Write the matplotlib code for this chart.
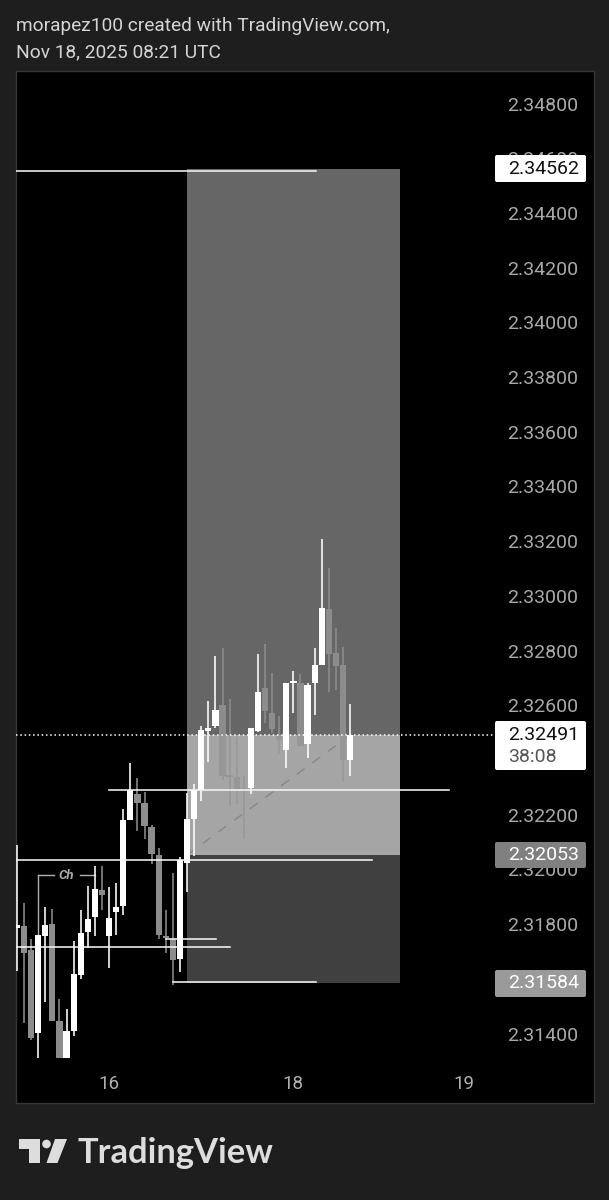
import matplotlib
matplotlib.use('Agg')
import matplotlib.pyplot as plt
from matplotlib.patches import Circle, FancyBboxPatch, Polygon

plt.rcParams['font.family'] = ['Roboto', 'DejaVu Sans']

# first candle sits half outside the left edge of the pane
candle_index = list(range(-1, 47))
opens = [2.31784, 2.31793, 2.31707, 2.31403, 2.31756, 2.31799, 2.31445, 2.31311,
         2.31409, 2.31614, 2.31772, 2.31826, 2.31923, 2.31756, 2.31843, 2.31866,
         2.32179, 2.32275, 2.32244, 2.32156, 2.32051, 2.31756, 2.31744, 2.31674,
         2.32024, 2.32184, 2.32291, 2.32507, 2.32523, 2.32602, 2.32346, 2.32338,
         2.32298, 2.32298, 2.32507, 2.32663, 2.32572, 2.32486, 2.32438, 2.32680,
         2.32681, 2.32457, 2.32680, 2.32748, 2.32952, 2.32791, 2.32748, 2.32401]
highs = [2.32091, 2.31878, 2.31744, 2.31760, 2.31862, 2.31856, 2.31528, 2.31488,
         2.31737, 2.31850, 2.31938, 2.32012, 2.32011, 2.31934, 2.31952, 2.32222,
         2.32390, 2.32334, 2.32284, 2.32161, 2.32078, 2.31851, 2.31988, 2.32045,
         2.32280, 2.32313, 2.32523, 2.32614, 2.32781, 2.32808, 2.32624, 2.32484,
         2.32340, 2.32517, 2.32787, 2.32823, 2.32718, 2.32560, 2.32681, 2.32726,
         2.32716, 2.32681, 2.32811, 2.33209, 2.33103, 2.32881, 2.32813, 2.32606]
lows = [2.31628, 2.31439, 2.31378, 2.31311, 2.31515, 2.31445, 2.31311, 2.31311,
        2.31390, 2.31598, 2.31713, 2.31756, 2.31851, 2.31640, 2.31759, 2.31834,
        2.32179, 2.32140, 2.32112, 2.32018, 2.31744, 2.31693, 2.31576, 2.31626,
        2.31918, 2.32048, 2.32249, 2.32393, 2.32517, 2.32328, 2.32233, 2.32240,
        2.32111, 2.32276, 2.32501, 2.32535, 2.32499, 2.32423, 2.32371, 2.32572,
        2.32450, 2.32406, 2.32566, 2.32746, 2.32648, 2.32655, 2.32318, 2.32340]
closes = [2.31795, 2.31693, 2.31384, 2.31760, 2.31795, 2.31445, 2.31311, 2.31411,
          2.31616, 2.31766, 2.31819, 2.31927, 2.31907, 2.31822, 2.31862, 2.32179,
          2.32290, 2.32244, 2.32158, 2.32056, 2.31759, 2.31751, 2.31667, 2.32036,
          2.32186, 2.32289, 2.32511, 2.32517, 2.32584, 2.32340, 2.32338, 2.32294,
          2.32294, 2.32517, 2.32648, 2.32578, 2.32514, 2.32474, 2.32681, 2.32690,
          2.32452, 2.32675, 2.32746, 2.32956, 2.32789, 2.32742, 2.32401, 2.32491]

y_ticks = [2.348, 2.346, 2.344, 2.342, 2.340, 2.338, 2.336, 2.334, 2.332, 2.330,
           2.328, 2.326, 2.324, 2.322, 2.320, 2.318, 2.316, 2.314]
y_tick_hidden = [2.324, 2.316]
x_ticks = [12, 38, 62]
x_tick_labels = ['16', '18', '19']

target_price = 2.34562
entry_price = 2.32053
stop_price = 2.31584
last_price = 2.32491
box_start, box_end = 23, 53

# level lines: price, first bar, last bar
levels = [(2.34555, -2, 41.2), (2.32290, 12, 60), (2.32036, -2, 49.1),
          (2.31718, -2, 29.05), (2.31745, 20, 27.1), (2.31588, 21, 41.2)]

BG = '#1e1e1e'
WHITE = '#ffffff'
GREY = '#8c8c8c'

fig = plt.figure(figsize=(6.09, 12), dpi=100, facecolor=BG)
ax = fig.add_axes([16 / 609, 1 - 1103 / 1200, 578 / 609, 1032 / 1200], facecolor='black')
ax.set_xlim(-1.128, 80.4)
ax.set_ylim(2.31148 - 0.00002, 2.34921 - 0.00002)

# long position box
box_x0 = (box_start + 1.128) / 81.528
box_x1 = (box_end + 1.128) / 81.528
ax.axhspan(last_price, target_price, box_x0, box_x1, color='#666666', lw=0, zorder=1)
ax.axhspan(entry_price, last_price, box_x0, box_x1, color='#9b9b9b', lw=0, zorder=1)
ax.axhspan(stop_price, entry_price, box_x0, box_x1, color='#404040', lw=0, zorder=1)

ax.plot([box_start, 46], [entry_price, last_price], color='#7a7a7a', lw=1,
        linestyle=(0, (7, 7)), zorder=2)

for i, o, h, l, c in zip(candle_index, opens, highs, lows, closes):
    col = WHITE if c >= o else GREY
    z = 4 if c >= o else 3
    ax.vlines(i, l, h, color=col, lw=1.15, zorder=z)
    ax.bar(i, abs(c - o), bottom=min(o, c), width=0.88, color=col, lw=0, zorder=z)

# light veil over the down candles in the filled part of the box
ax.axhspan(entry_price, last_price, box_x0, box_x1, color=WHITE, alpha=0.1, lw=0, zorder=3.5)

for price, x0, x1 in levels:
    ax.plot([x0, x1], [price, price], color='#f4f4f4', lw=1.15, zorder=5)

ax.axhline(last_price, xmax=(66.6 + 1.128) / 81.528, color=WHITE, lw=1.1,
           linestyle=(0, (1, 1.8)), zorder=5)

# date range tool
ax.plot([2, 2], [2.31760, 2.31978], color='#b0b0b0', lw=1, zorder=2)
ax.plot([2, 4.2], [2.31978, 2.31978], color='#b0b0b0', lw=1, zorder=2)
ax.plot([7.9, 10], [2.31978, 2.31978], color='#b0b0b0', lw=1, zorder=2)
ax.text(5.95, 2.31978, 'Ch', color='#a8a8a8', fontsize=9.5, style='italic', weight='bold',
        ha='center', va='center', zorder=5)

ax.yaxis.tick_right()
ax.set_yticks(y_ticks)
ax.set_yticklabels(['' if t in y_tick_hidden else f'{t:.5f}' for t in y_ticks])
ax.set_xticks(x_ticks)
ax.set_xticklabels(x_tick_labels)
ax.tick_params(axis='y', length=0, pad=-62.5, labelsize=14, labelcolor='#a9a9a9')
ax.tick_params(axis='x', length=0, pad=-20, labelsize=13.5, labelcolor='#b0b0b0')
for side in ax.spines.values():
    side.set_color('#363636')
    side.set_linewidth(1)

# page furniture, in pixels of the picture
over = fig.add_axes([0, 0, 1, 1], facecolor='none', zorder=10)
over.set_xlim(0, 609)
over.set_ylim(1200, 0)
over.axis('off')

over.text(16, 26, 'morapez100 created with TradingView.com,', color='#d4d4d4', fontsize=13.75,
          va='center', ha='left')
over.text(16, 52, 'Nov 18, 2025 08:21 UTC', color='#d4d4d4', fontsize=13.75, va='center', ha='left')


def price_tag(y0, y1, face):
    over.add_patch(FancyBboxPatch((495, y0), 91, y1 - y0, boxstyle='round,pad=0,rounding_size=2',
                                  facecolor=face, edgecolor='none'))


price_tag(155, 182, WHITE)
over.text(508, 169, f'{target_price:.5f}', color='#111111', fontsize=14, va='center')
price_tag(721, 770, WHITE)
over.text(508, 735, f'{last_price:.5f}', color='#111111', fontsize=14, va='center')
over.text(508, 757, '38:08', color='#555555', fontsize=14, va='center')
price_tag(842, 868, '#808080')
over.text(508, 855, f'{entry_price:.5f}', color=WHITE, fontsize=14, va='center')
price_tag(970, 997, '#9a9a9a')
over.text(508, 983, f'{stop_price:.5f}', color=WHITE, fontsize=14, va='center')

# TradingView logo
LOGO = '#dddddd'
over.add_patch(Polygon([(19, 1139), (39.5, 1139), (39.5, 1163), (28.5, 1163), (28.5, 1149), (19, 1149)],
                       facecolor=LOGO, edgecolor='none'))
over.add_patch(Circle((46.5, 1144), 4.3, facecolor=LOGO, edgecolor='none'))
over.add_patch(Polygon([(55, 1139), (67, 1139), (57.5, 1163), (46.5, 1163)], facecolor=LOGO, edgecolor='none'))
over.text(78, 1163, 'TradingView', color=LOGO, fontsize=24.8, weight='bold', family='Lato',
          va='baseline', ha='left')

fig.savefig('out.png', dpi=100, facecolor=BG)
